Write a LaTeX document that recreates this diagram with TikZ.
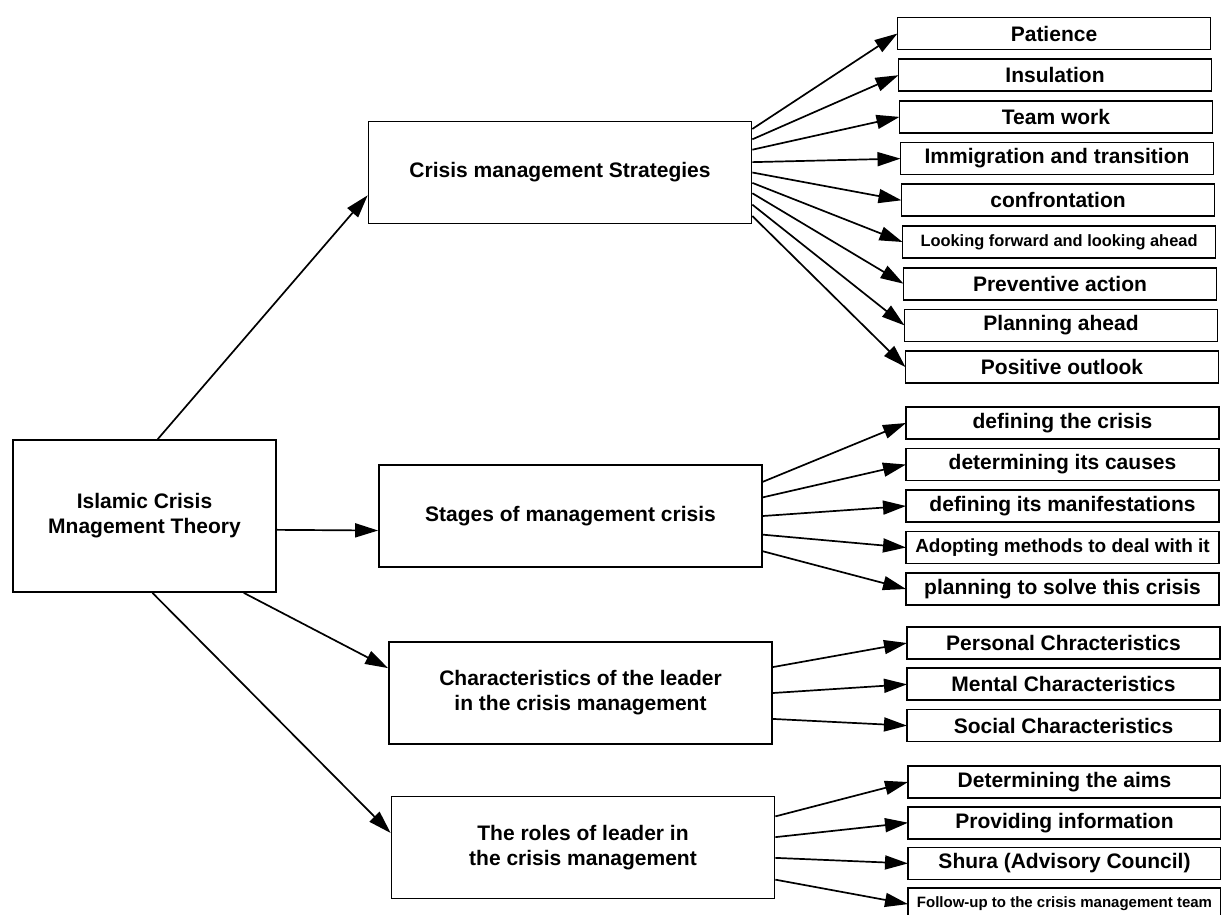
\documentclass[tikz,border=0pt]{standalone}
\usepackage{fontspec}
\setmainfont{Liberation Sans}
\usetikzlibrary{arrows.meta,positioning,calc}

\tikzset{
  mainbox/.style={draw,line width=1.7pt,minimum width=383pt,minimum height=102pt,
    inner sep=0pt,align=center,font=\fontsize{21}{25}\selectfont\bfseries},
  leafbox/.style={draw,line width=1.7pt,minimum width=313pt,minimum height=32pt,
    inner sep=0pt,outer sep=0pt,font=\fontsize{21}{25}\selectfont\bfseries},
  arr/.style={-{Triangle[length=23pt,width=14pt]},line width=1.7pt},
}

\begin{document}
\begin{tikzpicture}[x=1pt,y=-1pt,node distance=9.7pt]
  \useasboundingbox (0,0) rectangle (1221,914);
  % theory and its four branches
  \node[mainbox,minimum width=263pt,minimum height=152pt]
    (root) at (144.5,516) {Islamic Crisis\\Mnagement Theory};
  \node[mainbox] (strat) at (560,172.5) {Crisis management Strategies};
  \node[mainbox] (stage) at (570.5,516) {Stages of management crisis};
  \node[mainbox] (chars) at (580.5,693)
    {Characteristics of the leader\\ in the crisis management};
  \node[mainbox] (roles) at (583,847.5)
    {The roles of leader in\\the crisis management};

  % strategies
  \node[leafbox] (pat) at (1054,33.5) {Patience};
  \node[leafbox,below=of pat,xshift=1pt] (ins) {Insulation};
  \node[leafbox,below=of ins,xshift=1pt] (team) {Team work};
  \node[leafbox,below=of team,xshift=1pt] (immi) {Immigration and transition};
  \node[leafbox,below=of immi,xshift=1pt] (conf) {confrontation};
  \node[leafbox,below=of conf,xshift=1pt,font=\fontsize{16.4}{20}\selectfont\bfseries]
    (look) {Looking forward and looking ahead};
  \node[leafbox,below=of look,xshift=1pt] (prev) {Preventive action};
  \node[leafbox,below=of prev,xshift=1pt] (plan) {Planning ahead};
  \node[leafbox,below=of plan,xshift=1pt] (posi) {Positive outlook};

  % stages
  \node[leafbox] (defc) at (1062.5,423) {defining the crisis};
  \node[leafbox,below=9.5pt of defc] (caus) {determining its causes};
  \node[leafbox,below=9.5pt of caus] (mani) {defining its manifestations};
  \node[leafbox,below=9.5pt of mani,font=\fontsize{19}{23}\selectfont\bfseries]
    (adop) {Adopting methods to deal with it};
  \node[leafbox,below=9.5pt of adop] (solv) {planning to solve this crisis};

  % characteristics
  \node[leafbox] (pers) at (1063.5,643) {Personal Chracteristics};
  \node[leafbox,below=9.3pt of pers] (ment) {Mental Characteristics};
  \node[leafbox,below=9.3pt of ment] (soci) {Social Characteristics};

  % roles
  \node[leafbox] (aims) at (1064.5,782) {Determining the aims};
  \node[leafbox,below=8.7pt of aims] (info) {Providing information};
  \node[leafbox,below=8.7pt of info] (shur) {Shura (Advisory Council)};
  \node[leafbox,below=8.7pt of shur,font=\fontsize{15}{18}\selectfont\bfseries]
    (foll) {Follow-up to the crisis management team};

  % theory -> branches
  \draw[arr] ($(root.north west)!0.55!(root.north east)$)
    -- ($(strat.north west)!0.72!(strat.south west)$);
  \draw[arr] ($(root.north east)!0.59!(root.south east)$)
    -- ($(stage.north west)!0.64!(stage.south west)$);
  \draw[arr] ($(root.south west)!0.875!(root.south east)$)
    -- ($(chars.north west)!0.26!(chars.south west)$);
  \draw[arr] ($(root.south west)!0.53!(root.south east)$)
    -- ($(roles.north west)!0.36!(roles.south west)$);

  % branches -> leaves
  \draw[arr] ($(strat.north east)!0.08!(strat.south east)$) -- (pat.west);
  \draw[arr] ($(strat.north east)!0.18!(strat.south east)$) -- (ins.west);
  \draw[arr] ($(strat.north east)!0.28!(strat.south east)$) -- (team.west);
  \draw[arr] ($(strat.north east)!0.40!(strat.south east)$) -- (immi.west);
  \draw[arr] ($(strat.north east)!0.50!(strat.south east)$) -- (conf.west);
  \draw[arr] ($(strat.north east)!0.60!(strat.south east)$) -- (look.west);
  \draw[arr] ($(strat.north east)!0.70!(strat.south east)$) -- (prev.west);
  \draw[arr] ($(strat.north east)!0.81!(strat.south east)$) -- (plan.west);
  \draw[arr] ($(strat.north east)!0.92!(strat.south east)$) -- (posi.west);

  \draw[arr] ($(stage.north east)!0.17!(stage.south east)$) -- (defc.west);
  \draw[arr] ($(stage.north east)!0.32!(stage.south east)$) -- (caus.west);
  \draw[arr] ($(stage.north east)!0.50!(stage.south east)$) -- (mani.west);
  \draw[arr] ($(stage.north east)!0.68!(stage.south east)$) -- (adop.west);
  \draw[arr] ($(stage.north east)!0.84!(stage.south east)$) -- (solv.west);

  \draw[arr] ($(chars.north east)!0.25!(chars.south east)$) -- (pers.west);
  \draw[arr] ($(chars.north east)!0.50!(chars.south east)$) -- (ment.west);
  \draw[arr] ($(chars.north east)!0.75!(chars.south east)$) -- (soci.west);

  \draw[arr] ($(roles.north east)!0.20!(roles.south east)$) -- (aims.west);
  \draw[arr] ($(roles.north east)!0.40!(roles.south east)$) -- (info.west);
  \draw[arr] ($(roles.north east)!0.60!(roles.south east)$) -- (shur.west);
  \draw[arr] ($(roles.north east)!0.81!(roles.south east)$) -- (foll.west);
\end{tikzpicture}
\end{document}
